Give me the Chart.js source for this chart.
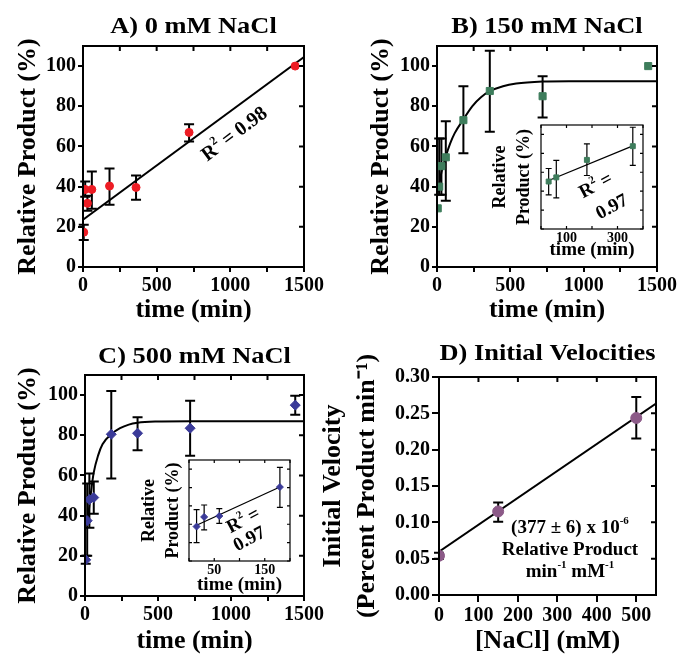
<!DOCTYPE html>
<html>
<head>
<meta charset="utf-8">
<script src="https://cdn.jsdelivr.net/npm/chart.js@4.4.0/dist/chart.umd.min.js"></script>
<style>
  html, body { margin: 0; padding: 0; background: #fff; }
  #fig { position: relative; width: 681px; height: 654px; overflow: hidden; background: #fff; }
  #fig canvas { position: absolute; }
</style>
</head>
<body>
<div id="fig">
  <canvas id="chartA" width="330" height="327" style="left:0;top:0;width:330px;height:327px"></canvas>
  <canvas id="chartB" width="341" height="327" style="left:340px;top:0;width:341px;height:327px"></canvas>
  <canvas id="chartC" width="330" height="327" style="left:0;top:327px;width:330px;height:327px"></canvas>
  <canvas id="chartD" width="371" height="327" style="left:310px;top:327px;width:371px;height:327px"></canvas>
  <canvas id="insetB" width="175" height="155" style="left:480px;top:110px;width:175px;height:155px"></canvas>
  <canvas id="insetC" width="172" height="155" style="left:130px;top:445px;width:172px;height:155px"></canvas>
</div>
<script>
// ── Data ──
const timesMin = [5, 15, 30, 60, 180, 360, 720, 1440];
const timeTicks = [0, 250, 500, 750, 1000, 1250, 1500];
const timeLabels = [0, 500, 1000, 1500];
const productTicks = [0, 20, 40, 60, 80, 100];

const productA = [17.3, 38.6, 31.7, 38.6, 40.3, 39.6, 67, 100];
const errLowA  = [13.5, 35, 28, 29, 31, 33.5, 62.5, null];
const errHighA = [21, 42.5, 35.5, 47.5, 49, 45.5, 71, null];
const fitTimesA = [0, 1500];
const fitA = [23.5, 104.5];

const productB = [29.2, 40, 50.2, 54.6, 73.1, 87.6, 85, 100];
const errLowB  = [null, 36, 36, 33, 56.6, 67.3, 74.4, null];
const errHighB = [null, 64, 64, 72.5, 90, 107.6, 95, null];
const curveTimesB = [0, 15, 30, 60, 90, 120, 180, 240, 300, 360, 450, 540, 720, 900, 1500];
const curveB = [35, 41, 47, 55, 61.5, 66.5, 73.5, 80, 84.5, 87.5, 90, 91.3, 92.3, 92.5, 92.5];

const productC = [18, 37.5, 48, 49, 80.5, 81, 83.5, 95];
const errLowC  = [16, 20, 34, 41, 58.5, 72.5, 69.8, 90.2];
const errHighC = [20, 56, 61, 57, 102, 89, 97.2, 99.7];
const curveTimesC = [15, 30, 45, 60, 90, 120, 180, 240, 300, 360, 480, 720, 1500];
const curveC = [35, 45, 54, 61.5, 70, 75.5, 80.5, 83.5, 85.3, 86.2, 86.8, 87, 87];

// insets: early time points only
const insetFirstB = 2, insetLastB = 6;   // 30..360 min
const insetFirstC = 1, insetLastC = 5;   // 15..180 min
const insetTicksB = [0, 100, 200, 300, 400];
const insetLabelsB = [100, 300];
const insetTicksC = [0, 50, 100, 150, 200];
const insetLabelsC = [50, 150];
const insetFitTimesB = [30, 360];
const insetFitB = [51.3, 87.9];
const insetFitTimesC = [15, 180];
const insetFitC = [38.9, 80.6];

const naclMM = [0, 150, 500];
const velocity = [0.054, 0.115, 0.2436];
const velErrLow  = [0.050, 0.1007, 0.2153];
const velErrHigh = [0.058, 0.1274, 0.2725];
const fitNacl = [0, 550];
const fitVel = [0.0595, 0.2634];
const naclTicks = [0, 100, 200, 300, 400, 500];
const velTicks = [0, 0.05, 0.1, 0.15, 0.2, 0.25, 0.3];

// ── Chart.js defaults ──
const SERIF = '"Liberation Serif", "Times New Roman", serif';
Chart.defaults.font.family = SERIF;
Chart.defaults.font.weight = 'bold';
Chart.defaults.color = '#000';

const pts = (xs, ys) => xs.map((x, i) => ({ x, y: ys[i] }));
const fixedAxis = size => s => { if (s.isHorizontal()) s.height = size; else s.width = size; };
const useTicks = values => s => { s.ticks = values.map(v => ({ value: v })); };

// ── Plugins: box frame with inner ticks, error bars, panel title, text notes ──
const framePlugin = {
  id: 'frame',
  afterDatasetsDraw(chart, args, o) {
    const { ctx, chartArea: a, scales: { x, y } } = chart;
    ctx.save();
    ctx.strokeStyle = '#000';
    ctx.lineWidth = o.width;
    ctx.strokeRect(a.left, a.top, a.right - a.left, a.bottom - a.top);
    ctx.beginPath();
    x.ticks.forEach(t => {
      const px = x.getPixelForValue(t.value);
      if (o.top) { ctx.moveTo(px, a.top); ctx.lineTo(px, a.top + o.len); }
      if (o.bottom) { ctx.moveTo(px, a.bottom); ctx.lineTo(px, a.bottom - o.len); }
    });
    y.ticks.forEach(t => {
      const py = y.getPixelForValue(t.value);
      if (o.right) { ctx.moveTo(a.right, py); ctx.lineTo(a.right - o.len, py); }
      if (o.left) { ctx.moveTo(a.left, py); ctx.lineTo(a.left + o.len, py); }
    });
    ctx.stroke();
    ctx.restore();
  }
};

const errorBarPlugin = {
  id: 'errorBars',
  beforeDatasetsDraw(chart, args, o) {
    const { ctx, scales: { x, y } } = chart;
    chart.data.datasets.forEach(ds => {
      if (!ds.errLow) return;
      ctx.save();
      ctx.strokeStyle = '#000';
      ctx.lineWidth = o.width;
      ds.data.forEach((p, i) => {
        const lo = ds.errLow[i], hi = ds.errHigh[i];
        if (lo == null || hi == null) return;
        const px = x.getPixelForValue(p.x);
        const y0 = y.getPixelForValue(lo), y1 = y.getPixelForValue(hi);
        ctx.beginPath();
        ctx.moveTo(px, y0); ctx.lineTo(px, y1);
        ctx.moveTo(px - o.cap, y0); ctx.lineTo(px + o.cap, y0);
        ctx.moveTo(px - o.cap, y1); ctx.lineTo(px + o.cap, y1);
        ctx.stroke();
      });
      ctx.restore();
    });
  }
};

// panel heading centred over the plot box (the built-in title centres on the canvas)
const panelTitlePlugin = {
  id: 'panelTitle',
  afterDraw(chart, args, o) {
    if (!o.text) return;
    const { ctx, chartArea: a } = chart;
    ctx.save();
    ctx.translate((a.left + a.right) / 2, o.y);
    ctx.scale(o.stretch || 1, 1);
    ctx.font = `bold ${o.size}px ${SERIF}`;
    ctx.fillStyle = '#000';
    ctx.textAlign = 'center';
    ctx.textBaseline = 'middle';
    ctx.fillText(o.text, 0, 0);
    ctx.restore();
  }
};

Chart.register(framePlugin, errorBarPlugin, panelTitlePlugin);

// text with ^{superscript} parts, centred on (x, y)
function drawRich(ctx, text, x, y, size) {
  const parts = [];
  const re = /\^\{([^}]*)\}/g;
  let last = 0, m;
  while ((m = re.exec(text))) {
    if (m.index > last) parts.push({ t: text.slice(last, m.index), sup: false });
    parts.push({ t: m[1], sup: true });
    last = re.lastIndex;
  }
  if (last < text.length) parts.push({ t: text.slice(last), sup: false });
  const fontFor = sup => `bold ${sup ? Math.round(size * 0.6) : size}px ${SERIF}`;
  let w = 0;
  parts.forEach(p => { ctx.font = fontFor(p.sup); p.w = ctx.measureText(p.t).width; w += p.w; });
  let cx = x - w / 2;
  parts.forEach(p => {
    ctx.font = fontFor(p.sup);
    ctx.fillText(p.t, cx, p.sup ? y - size * 0.36 : y);
    cx += p.w;
  });
}

function notes(items) {
  return {
    id: 'notes',
    afterDraw(chart) {
      const { ctx, scales: { x, y } } = chart;
      items.forEach(n => {
        ctx.save();
        ctx.translate(x.getPixelForValue(n.x), y.getPixelForValue(n.y));
        ctx.rotate((n.rot || 0) * Math.PI / 180);
        ctx.fillStyle = '#000';
        ctx.textAlign = 'left';
        ctx.textBaseline = 'middle';
        n.lines.forEach((line, i) => drawRich(ctx, line, 0, (i - (n.lines.length - 1) / 2) * (n.lh || 0), n.size));
        ctx.restore();
      });
    }
  };
}

// ── Main panel ──
function mainPanel(id, c) {
  return new Chart(document.getElementById(id), {
    type: 'scatter',
    data: { datasets: c.datasets },
    options: {
      responsive: false,
      animation: false,
      layout: { padding: { top: c.top, right: c.padRight } },
      plugins: {
        legend: { display: false },
        tooltip: { enabled: false },
        title: { display: false },
        panelTitle: { text: c.title, y: c.titleY, size: 24, stretch: 1.1 },
        frame: { width: 2, len: 5, top: true, right: true },
        errorBars: { width: 2, cap: 5 }
      },
      scales: {
        x: {
          type: 'linear', min: c.xMin, max: c.xMax,
          afterBuildTicks: useTicks(c.xTicks),
          afterFit: fixedAxis(c.xHeight),
          border: { display: false },
          grid: { drawOnChartArea: false, tickLength: c.tickLen || 5, lineWidth: 2, color: '#000' },
          ticks: { padding: 4, autoSkip: false, maxRotation: 0, font: { size: 20, lineHeight: 1 },
                   callback: v => c.xLabels.includes(v) ? String(v) : '' },
          title: { display: true, text: c.xTitle, font: { size: 26, lineHeight: 1 }, padding: { top: 0, bottom: c.xTitlePad } }
        },
        y: {
          type: 'linear', min: c.yMin, max: c.yMax,
          afterBuildTicks: useTicks(c.yTicks),
          afterFit: fixedAxis(c.yWidth),
          border: { display: false },
          grid: { drawOnChartArea: false, tickLength: c.tickLen || 5, lineWidth: 2, color: '#000' },
          ticks: { padding: 2, autoSkip: false, font: { size: 20, lineHeight: 1 }, callback: c.yFmt || (v => String(v)) },
          title: { display: true, text: c.yTitle, font: { size: 26, lineHeight: c.yTitleLh || 1 }, padding: { top: c.yTitlePad, bottom: 0 } }
        }
      }
    },
    plugins: [notes(c.notes || [])]
  });
}

// ── Inset panel ──
function insetPanel(id, c) {
  return new Chart(document.getElementById(id), {
    type: 'scatter',
    data: { datasets: c.datasets },
    options: {
      responsive: false,
      animation: false,
      layout: { padding: { top: 15, right: c.padRight } },
      plugins: {
        legend: { display: false },
        tooltip: { enabled: false },
        frame: { width: 1.2, len: 3, top: true, right: true, bottom: true, left: true },
        errorBars: { width: 1.2, cap: 3 }
      },
      scales: {
        x: {
          type: 'linear', min: 0, max: c.xMax,
          afterBuildTicks: useTicks(c.xTicks),
          afterFit: fixedAxis(c.xHeight),
          border: { display: false },
          grid: { display: false, drawTicks: false },
          ticks: { padding: 2, autoSkip: false, maxRotation: 0, font: { size: 14, lineHeight: 1 },
                   callback: v => c.xLabels.includes(v) ? String(v) : '' },
          title: { display: true, text: 'time (min)', font: { size: 19, lineHeight: 1 }, padding: { top: 0, bottom: 5 } }
        },
        y: {
          type: 'linear', min: 0, max: 110,
          afterBuildTicks: useTicks(productTicks),
          afterFit: fixedAxis(c.yWidth),
          border: { display: false },
          grid: { display: false, drawTicks: false },
          ticks: { display: false },
          title: { display: true, text: ['Relative', 'Product (%)'], font: { size: 18, lineHeight: 1.35 }, padding: { top: c.yTitlePad, bottom: 0 } }
        }
      }
    },
    plugins: [notes(c.notes || [])]
  });
}

const pointSet = (xs, ys, lo, hi, color, style, r) => ({
  data: pts(xs, ys), errLow: lo, errHigh: hi,
  pointStyle: style, pointRadius: r, backgroundColor: color, borderColor: color, borderWidth: 1
});
const fitSet = (xs, ys, w, curved) => ({
  data: pts(xs, ys), showLine: true, pointRadius: 0, borderColor: '#000', borderWidth: w,
  fill: false, cubicInterpolationMode: curved ? 'monotone' : 'default'
});

const RED = '#ed1c24', GREEN = '#3e7d5c', NAVY = '#3a3a98', PURPLE = '#8c5a88';

// A) 0 mM NaCl
mainPanel('chartA', {
  title: 'A) 0 mM NaCl', titleY: 27, top: 46,
  padRight: 26, xHeight: 60, yWidth: 83, yTitlePad: 15, xTitlePad: 4,
  xMin: 0, xMax: 1500, xTicks: timeTicks, xLabels: timeLabels, xTitle: 'time (min)',
  yMin: 0, yMax: 110, yTicks: productTicks, yTitle: 'Relative Product (%)',
  datasets: [
    pointSet(timesMin, productA, errLowA, errHighA, RED, 'circle', 4),
    fitSet(fitTimesA, fitA, 2, false)
  ],
  notes: [{ lines: ['R^{2} = 0.98'], x: 1030, y: 66, rot: -37, size: 20 }]
});

// B) 150 mM NaCl
mainPanel('chartB', {
  title: 'B) 150 mM NaCl', titleY: 27, top: 46,
  padRight: 24, xHeight: 60, yWidth: 97, yTitlePad: 28, xTitlePad: 4,
  xMin: 0, xMax: 1500, xTicks: timeTicks, xLabels: timeLabels, xTitle: 'time (min)',
  yMin: 0, yMax: 110, yTicks: productTicks, yTitle: 'Relative Product (%)',
  datasets: [
    pointSet(timesMin, productB, errLowB, errHighB, GREEN, 'rect', 5),
    fitSet(curveTimesB, curveB, 2, true)
  ]
});

// C) 500 mM NaCl
mainPanel('chartC', {
  title: 'C) 500 mM NaCl', titleY: 30, top: 48,
  padRight: 26, xHeight: 58, yWidth: 85, yTitlePad: 15, xTitlePad: 0,
  xMin: 0, xMax: 1500, xTicks: timeTicks, xLabels: timeLabels, xTitle: 'time (min)',
  yMin: 0, yMax: 110, yTicks: productTicks, yTitle: 'Relative Product (%)',
  datasets: [
    pointSet(timesMin, productC, errLowC, errHighC, NAVY, 'rectRot', 5),
    fitSet(curveTimesC, curveC, 2, true)
  ]
});

// D) Initial Velocities
mainPanel('chartD', {
  title: 'D) Initial Velocities', titleY: 27, top: 50,
  padRight: 25, xHeight: 59, yWidth: 129, yTitlePad: 7, yTitleLh: 1.29, xTitlePad: 0, tickLen: 7,
  xMin: 0, xMax: 550, xTicks: naclTicks, xLabels: naclTicks, xTitle: '[NaCl] (mM)',
  yMin: 0, yMax: 0.3, yTicks: velTicks, yFmt: v => v.toFixed(2),
  yTitle: ['Initial Velocity', '(Percent Product min\u207B\u00B9)'],
  datasets: [
    pointSet(naclMM, velocity, velErrLow, velErrHigh, PURPLE, 'circle', 5.5),
    fitSet(fitNacl, fitVel, 2, false)
  ],
  notes: [{ lines: ['(377 \u00B1 6) x 10^{-6}', 'Relative Product', 'min^{-1} mM^{-1}'], x: 332, y: 0.0619, lh: 22, size: 19 }]
});

// insets
insetPanel('insetB', {
  padRight: 12, xHeight: 36, yWidth: 61, yTitlePad: 8,
  xMax: 400, xTicks: insetTicksB, xLabels: insetLabelsB,
  datasets: [
    pointSet(timesMin.slice(insetFirstB, insetLastB), productB.slice(insetFirstB, insetLastB),
             errLowB.slice(insetFirstB, insetLastB), errHighB.slice(insetFirstB, insetLastB), GREEN, 'rect', 3.5),
    fitSet(insetFitTimesB, insetFitB, 1.3, false)
  ],
  notes: [
    { lines: ['R^{2} ='], x: 216, y: 45.5, rot: -28, size: 19 },
    { lines: ['0.97'], x: 279, y: 23, rot: -28, size: 19 }
  ]
});

insetPanel('insetC', {
  padRight: 12, xHeight: 39, yWidth: 59, yTitlePad: 7,
  xMax: 200, xTicks: insetTicksC, xLabels: insetLabelsC,
  datasets: [
    pointSet(timesMin.slice(insetFirstC, insetLastC), productC.slice(insetFirstC, insetLastC),
             errLowC.slice(insetFirstC, insetLastC), errHighC.slice(insetFirstC, insetLastC), NAVY, 'rectRot', 3.5),
    fitSet(insetFitTimesC, insetFitC, 1.3, false)
  ],
  notes: [
    { lines: ['R^{2} ='], x: 108, y: 43.5, rot: -28, size: 19 },
    { lines: ['0.97'], x: 120, y: 23.5, rot: -28, size: 19 }
  ]
});
</script>
</body>
</html>
